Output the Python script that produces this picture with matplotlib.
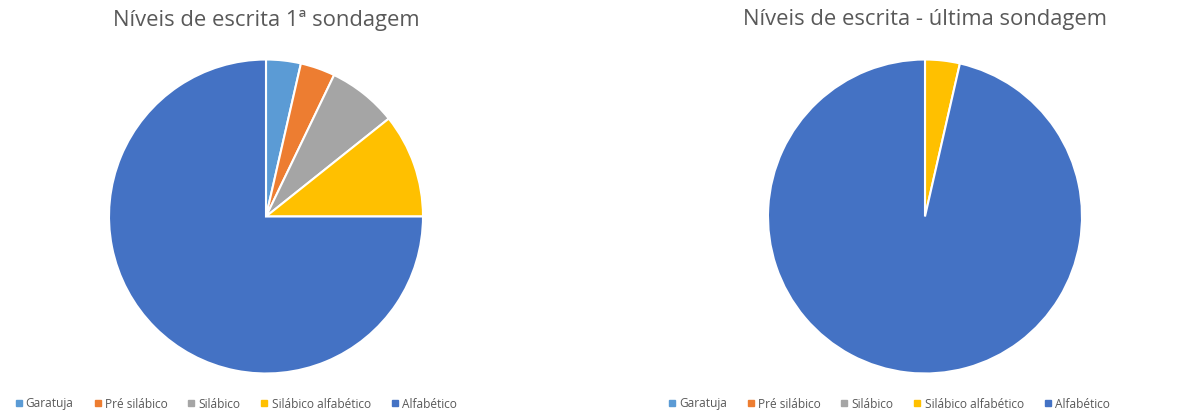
import matplotlib.pyplot as plt
from matplotlib.lines import Line2D

plt.rcParams['font.family'] = ['Open Sans', 'DejaVu Sans']

categories = ['Garatuja', 'Pré silábico', 'Silábico', 'Silábico alfabético', 'Alfabético']
first_values = [1, 1, 2, 3, 21]
last_values = [0, 0, 0, 1, 27]
titles = ['Níveis de escrita 1ª sondagem', 'Níveis de escrita - última sondagem']
COLORS = ['#5B9BD5', '#ED7D31', '#A5A5A5', '#FFC000', '#4472C4']
TEXT_COLOR = '#595959'

W, H = 1192, 418
fig = plt.figure(figsize=(W / 100, H / 100), dpi=100)

# pies: center x, center y, radius in pixels
pies = [(266, 216.5, 157), (925, 216.5, 157)]
legend_x = [15, 668]

for (cx, cy, r), vals, title, lx in zip(pies, [first_values, last_values], titles, legend_x):
    ax = fig.add_axes([(cx - r) / W, (H - cy - r) / H, 2 * r / W, 2 * r / H])
    ax.pie(vals, colors=COLORS, startangle=90, counterclock=False,
           wedgeprops=dict(edgecolor='white', linewidth=1.5))
    ax.set_xlim(-1, 1)
    ax.set_ylim(-1, 1)
    ax.set_aspect('equal')
    fig.text(cx / W, 1 - 20 / H, title, ha='center', va='center',
             fontsize=15.8, color=TEXT_COLOR)
    handles = [Line2D([], [], marker='s', linestyle='', markersize=5,
                      markerfacecolor=c, markeredgecolor=c) for c in COLORS]
    fig.legend(handles, categories, loc='center left', ncol=5,
               bbox_to_anchor=(lx / W, 1 - 404 / H), frameon=False,
               fontsize=8.6, labelcolor=TEXT_COLOR, handlelength=0.6,
               handletextpad=0.3, columnspacing=1.7, borderpad=0, borderaxespad=0)

fig.savefig('out.png', dpi=100, facecolor='white')
